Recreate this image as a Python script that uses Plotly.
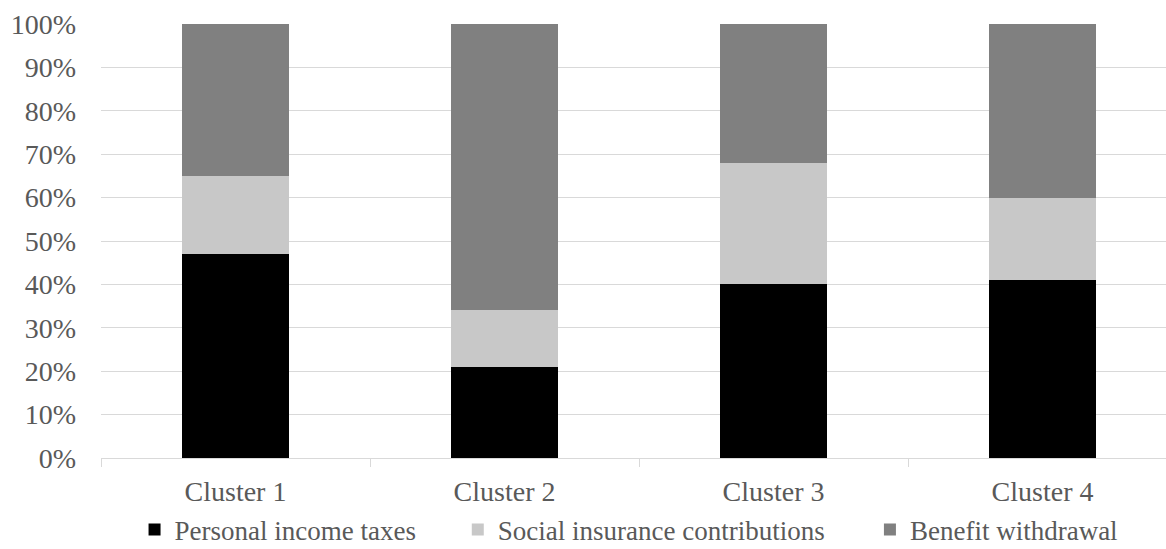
import plotly.graph_objects as go

# Share of each component in the total, by cluster (percent)
clusters = ["Cluster 1", "Cluster 2", "Cluster 3", "Cluster 4"]
personal_income_taxes = [47, 21, 40, 41]
social_insurance = [18, 13, 28, 19]
benefit_withdrawal = [35, 66, 32, 40]

series_names = ["Personal income taxes", "Social insurance contributions", "Benefit withdrawal"]
series_colors = ["#000000", "#C8C8C8", "#808080"]
series_values = [personal_income_taxes, social_insurance, benefit_withdrawal]

FONT = "Liberation Serif"
TEXT_COLOR = "#595959"
GRID_COLOR = "#D9D9D9"
FONT_SIZE = 28
LEGEND_FONT_SIZE = 27

# each series gets its own legend box so the entries can be spaced freely
legend_ids = ["legend", "legend2", "legend3"]
legend_x = [0.0315, 0.335, 0.722]

fig = go.Figure()
for name, color, vals, lid in zip(series_names, series_colors, series_values, legend_ids):
    fig.add_trace(go.Bar(
        x=clusters,
        y=vals,
        name=name,
        legend=lid,
        marker=dict(color=color, line=dict(width=0)),
    ))

legend_style = dict(
    orientation="h",
    y=-0.166, yanchor="middle",
    xanchor="left",
    bgcolor="rgba(0,0,0,0)",
    borderwidth=0,
    font=dict(family=FONT, size=LEGEND_FONT_SIZE, color=TEXT_COLOR),
)

fig.update_layout(
    barmode="stack",
    barnorm="percent",
    bargap=0.6,
    width=1166,
    height=549,
    margin=dict(l=101, r=0, t=24, b=91, autoexpand=False),
    paper_bgcolor="white",
    plot_bgcolor="white",
    font=dict(family=FONT, size=FONT_SIZE, color=TEXT_COLOR),
    showlegend=True,
    legend=dict(x=legend_x[0], **legend_style),
    legend2=dict(x=legend_x[1], **legend_style),
    legend3=dict(x=legend_x[2], **legend_style),
)

fig.update_xaxes(
    range=[-0.5, 3.459],
    automargin=False,
    showgrid=False,
    showline=True,
    linecolor=GRID_COLOR,
    linewidth=1.3,
    ticks="outside",
    tickson="boundaries",
    ticklen=8,
    tickcolor=GRID_COLOR,
    tickwidth=1.3,
    ticklabelstandoff=8,
    tickfont=dict(family=FONT, size=FONT_SIZE, color=TEXT_COLOR),
)

fig.update_yaxes(
    range=[0, 100],
    automargin=False,
    dtick=10,
    ticksuffix="%",
    showgrid=True,
    gridcolor=GRID_COLOR,
    gridwidth=1.3,
    zeroline=False,
    showline=False,
    ticks="",
    ticklabelstandoff=24,
    tickfont=dict(family=FONT, size=FONT_SIZE, color=TEXT_COLOR),
)

fig.write_html("out.html")
